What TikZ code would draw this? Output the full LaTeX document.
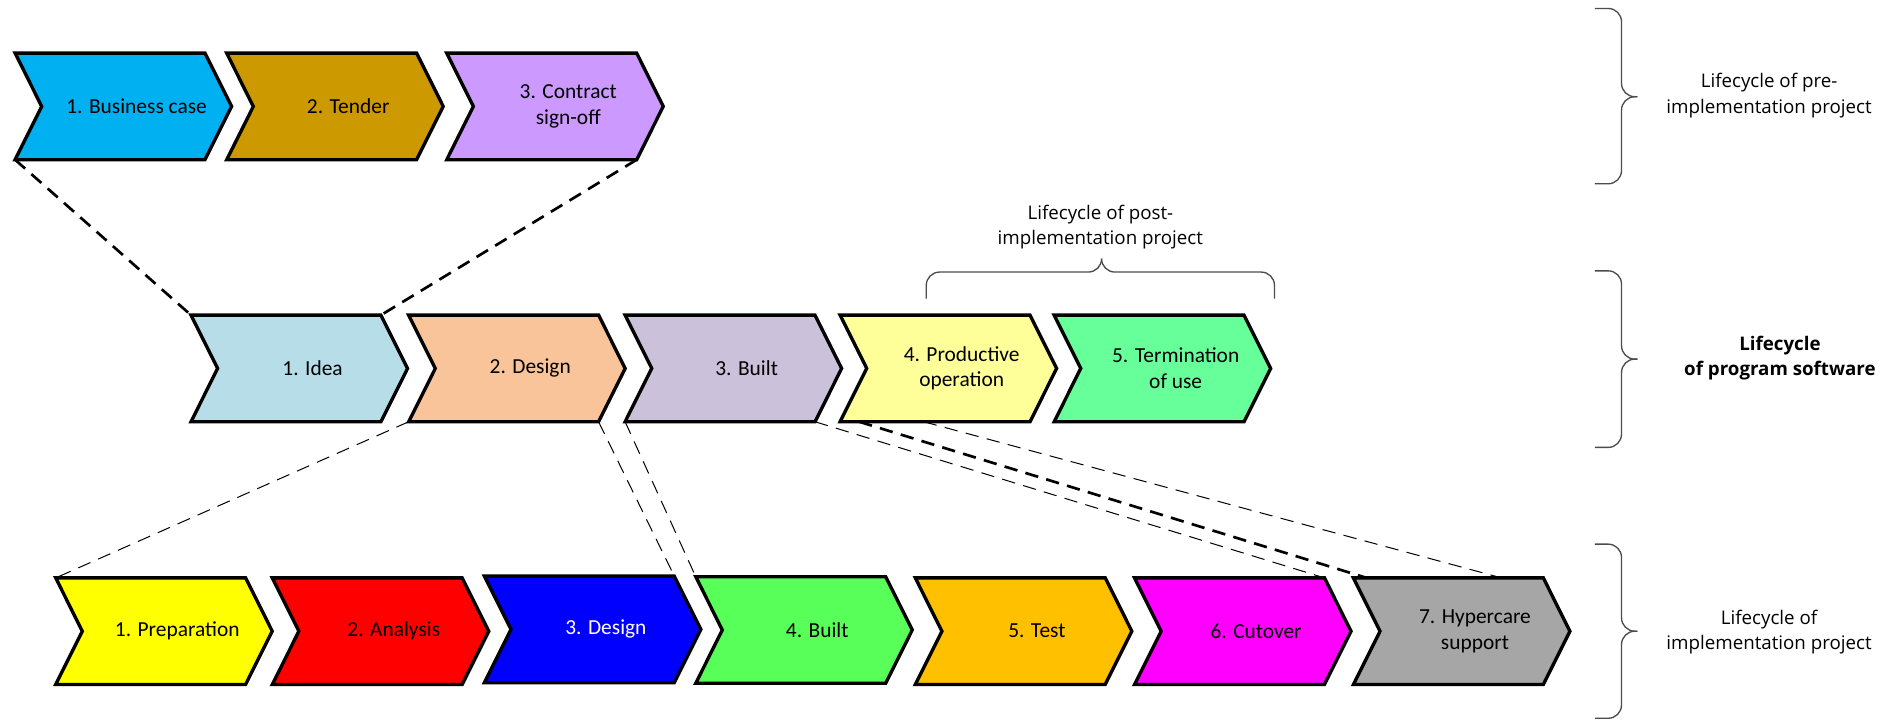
\documentclass[tikz,border=0pt]{standalone}
\usepackage{fontspec}
\setmainfont{Carlito}
\newfontfamily\sidefont{Open Sans}
\usetikzlibrary{calc,backgrounds}

\definecolor{bizblue}{HTML}{00B0F0}
\definecolor{tendergold}{HTML}{CC9900}
\definecolor{contractlilac}{HTML}{CC99FF}
\definecolor{ideablue}{HTML}{B7DEE8}
\definecolor{designpeach}{HTML}{F9C49A}
\definecolor{builtmauve}{HTML}{CCC1DA}
\definecolor{prodyellow}{HTML}{FFFF99}
\definecolor{termgreen}{HTML}{66FF99}
\definecolor{prepyellow}{HTML}{FFFF00}
\definecolor{anared}{HTML}{FF0000}
\definecolor{desblue}{HTML}{0000FF}
\definecolor{buildgreen}{HTML}{59FF59}
\definecolor{testorange}{HTML}{FFC000}
\definecolor{cutmagenta}{HTML}{FF00FF}
\definecolor{hypergrey}{HTML}{A6A6A6}

\tikzset{
  phase/.style={minimum width=3.99cm, minimum height=2.24cm, inner sep=0pt, outer sep=0pt,
    align=center, font=\fontsize{12.8}{15.3}\selectfont},
  chev/.style={line width=2pt},
  bigdash/.style={line width=1.6pt, dash pattern=on 8pt off 5pt},
  smalldash/.style={line width=0.6pt, dash pattern=on 8pt off 5pt},
  curly/.style={black!70, line width=0.8pt, rounded corners=0.28cm},
  side/.style={align=center, font=\sidefont\fontsize{11.2}{15.1}\selectfont},
  sidebold/.style={side, font=\sidefont\bfseries\fontsize{11.2}{15.1}\selectfont},
}

\begin{document}
\begin{tikzpicture}[x=0.0254cm, y=-0.0254cm]
\useasboundingbox (0,0) rectangle (1568,595);

% pre-implementation
\node[phase] (c1) at (113,88) {1. Business case};
\node[phase] (c2) at (288,88) {2. Tender};
\node[phase] (c3) at (470,88) {3. Contract\\sign-off};

% program software
\node[phase] (m1) at (258.5,304.7) {1. Idea};
\node[phase] (m2) at (438.5,304.7) {2. Design};
\node[phase] (m3) at (617.5,304.7) {3. Built};
\node[phase] (m4) at (795.3,304.7) {4. Productive\\operation};
\node[phase] (m5) at (972.3,304.7) {5. Termination\\of use};

% implementation
\node[phase] (b1) at (146.6,522) {1. Preparation};
\node[phase] (b2) at (325.7,522) {2. Analysis};
\node[phase, text=white] (b3) at (501.1,520.5) {3. Design};
\node[phase] (b4) at (675.9,521) {4. Built};
\node[phase] (b5) at (857.5,522) {5. Test};
\node[phase] (b6) at (1038.8,522) {6. Cutover};
\node[phase] (b7) at (1219.8,522) {7. Hypercare\\support};

\begin{scope}[on background layer]
\foreach \n/\col in {c1/bizblue, c2/tendergold, c3/contractlilac,
    m1/ideablue, m2/designpeach, m3/builtmauve, m4/prodyellow, m5/termgreen,
    b1/prepyellow, b2/anared, b3/desblue, b4/buildgreen, b5/testorange,
    b6/cutmagenta, b7/hypergrey}{
  \coordinate (\n-nw) at ($(\n.north west)+(-22,0)$);
  \coordinate (\n-ne) at ($(\n.north east)+(-22,0)$);
  \coordinate (\n-se) at ($(\n.south east)+(-22,0)$);
  \coordinate (\n-sw) at ($(\n.south west)+(-22,0)$);
  \filldraw[chev, fill=\col] (\n-nw) -- (\n-ne) -- (\n.east) -- (\n-se) -- (\n-sw) -- (\n.west) -- cycle;
}
\end{scope}

% zoom lines
\draw[bigdash] (c1-sw) -- (m1-nw);
\draw[bigdash] (c3-se) -- (m1-ne);
\draw[smalldash] (m2-sw) -- (b1-nw);
\draw[smalldash] (m2-se) -- (b3-ne);
\draw[smalldash] (m3-sw) -- (b4-nw);
\draw[smalldash] (m3-se) -- (b6-ne);
\draw[bigdash] ($(m4-sw)!0.1!(m4-se)$) -- ($(b7-nw)!0.07!(b7-ne)$);
\draw[smalldash] ($(m4-sw)!0.44!(m4-se)$) -- ($(b7-nw)!0.78!(b7-ne)$);

% braces
\draw[curly] (766,247) -- (766,225) -- (911,225) -- (911,214);
\draw[curly] (911,214) -- (911,225) -- (1054,225) -- (1054,247);
\foreach \ya/\yb/\yc in {7/80/152, 224/297/370, 450/522/594}{
  \draw[curly] (1319,\ya) -- (1341,\ya) -- (1341,\yb) -- (1354,\yb);
  \draw[curly] (1354,\yb) -- (1341,\yb) -- (1341,\yc) -- (1319,\yc);
}

\node[side] (post) at (910,188) {Lifecycle of post-\\implementation project};
\node[side] (pre) at (1463,79) {Lifecycle of pre-\\implementation project};
\node[sidebold] (prog) at (1472,296) {Lifecycle\\of program software};
\node[side] (impl) at (1463,523) {Lifecycle of\\implementation project};
\end{tikzpicture}
\end{document}
